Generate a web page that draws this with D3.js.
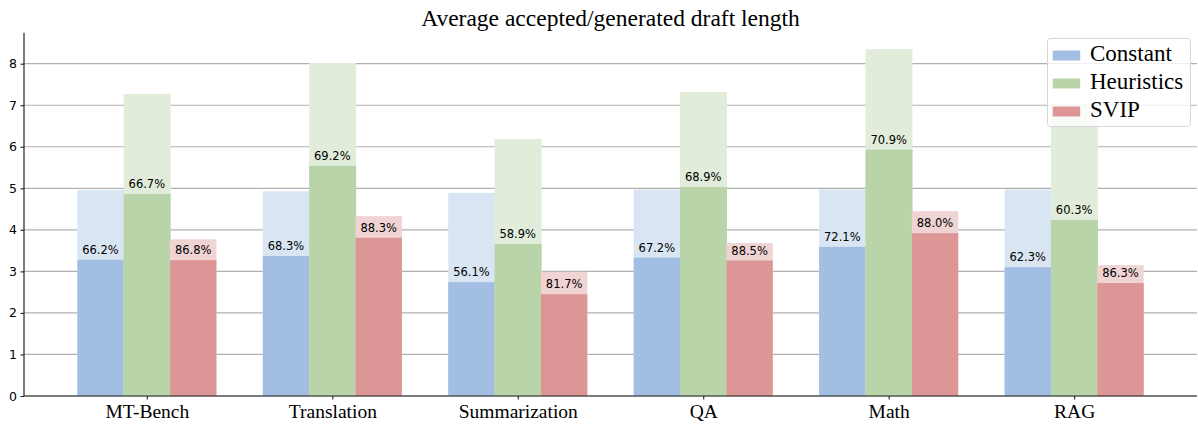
<!DOCTYPE html>
<html><head><meta charset="utf-8">
<script src="https://cdn.jsdelivr.net/npm/d3@7"></script>
<style>body{margin:0;background:#fff}svg{display:block}</style>
</head><body>
<svg id="c" width="1198" height="424"></svg>
<script>
const categories = ["MT-Bench","Translation","Summarization","QA","Math","RAG"];
const series = ["Constant","Heuristics","SVIP"];
const constantGenerated = [4.96, 4.93, 4.89, 4.97, 4.97, 4.97];
const constantAccepted  = [3.28, 3.37, 2.74, 3.33, 3.59, 3.10];
const heuristicsGenerated = [7.27, 8.02, 6.19, 7.32, 8.35, 7.03];
const heuristicsAccepted  = [4.86, 5.54, 3.66, 5.03, 5.93, 4.24];
const svipGenerated = [3.77, 4.33, 2.99, 3.68, 4.45, 3.15];
const svipAccepted  = [3.27, 3.81, 2.45, 3.26, 3.92, 2.72];
const constantPct   = ["66.2%","68.3%","56.1%","67.2%","72.1%","62.3%"];
const heuristicsPct = ["66.7%","69.2%","58.9%","68.9%","70.9%","60.3%"];
const svipPct       = ["86.8%","88.3%","81.7%","88.5%","88.0%","86.3%"];
const yTicks = [0,1,2,3,4,5,6,7,8];

const solid = ["#a2bfe3","#b9d4a8","#dc9695"];
const light = ["#d9e5f3","#e1ecda","#f0d3d3"];

const gen = [constantGenerated, heuristicsGenerated, svipGenerated];
const acc = [constantAccepted, heuristicsAccepted, svipAccepted];
const pct = [constantPct, heuristicsPct, svipPct];

const svg = d3.select("#c");
const L = 24, R = 1197, B = 396, T = 32.7;
const barW = 0.25;
const x = d3.scaleLinear().domain([-0.6625, categories.length - 1 + 0.6625]).range([L, R]);
const y = d3.scaleLinear().domain([0, 8.746]).range([B, T]);

// grid
svg.append("g").selectAll("line").data(yTicks).join("line")
  .attr("x1", L).attr("x2", R)
  .attr("y1", d => y(d)).attr("y2", d => y(d))
  .attr("stroke", "#b0b0b0").attr("stroke-width", 1.2);

// bars
series.forEach((s, si) => {
  const off = (si - 1) * barW;
  const g = svg.append("g");
  const ext = si < 2 ? 0.6 : 0;
  g.selectAll("rect.gen").data(categories).join("rect").attr("class","gen")
    .attr("x", (d,i) => x(i + off - barW/2))
    .attr("width", (d,i) => x(i + off + barW/2) - x(i + off - barW/2) + ext)
    .attr("y", (d,i) => y(gen[si][i]))
    .attr("height", (d,i) => y(0) - y(gen[si][i]))
    .attr("fill", light[si]);
  g.selectAll("rect.acc").data(categories).join("rect").attr("class","acc")
    .attr("x", (d,i) => x(i + off - barW/2))
    .attr("width", (d,i) => x(i + off + barW/2) - x(i + off - barW/2) + ext)
    .attr("y", (d,i) => y(acc[si][i]))
    .attr("height", (d,i) => y(0) - y(acc[si][i]))
    .attr("fill", solid[si]);
});
// labels
series.forEach((s, si) => {
  const off = (si - 1) * barW;
  svg.append("g").selectAll("text").data(categories).join("text")
    .attr("x", (d,i) => x(i + off))
    .attr("y", (d,i) => y(acc[si][i]) - 6)
    .attr("text-anchor", "middle")
    .attr("font-family", "DejaVu Sans").attr("font-size", 11.5)
    .attr("fill", "#000")
    .text((d,i) => pct[si][i]);
});

// axes
const yAxis = d3.axisLeft(y).tickValues(yTicks).tickSize(3.5).tickPadding(3.5).tickFormat(d3.format("d"));
const gy = svg.append("g").attr("transform", `translate(${L},0)`).call(yAxis);
gy.select(".domain").attr("stroke", "#222").attr("stroke-width", 1.2).attr("d", `M-0,${B}V${T}`);
gy.selectAll(".tick line").attr("stroke", "#222").attr("stroke-width", 1.1);
gy.selectAll(".tick text").attr("font-family", "DejaVu Sans").attr("font-size", 12.5).attr("fill", "#000");

const xAxis = d3.axisBottom(x).tickValues(d3.range(categories.length)).tickFormat(i => categories[i]).tickSize(3.5).tickPadding(5);
const gx = svg.append("g").attr("transform", `translate(0,${B})`).call(xAxis);
gx.select(".domain").attr("stroke", "#222").attr("stroke-width", 1.2).attr("d", `M${L},0H${R}`);
gx.selectAll(".tick line").attr("stroke", "#222").attr("stroke-width", 1.1);
gx.selectAll(".tick text").attr("font-family", "Liberation Serif").attr("font-size", 19.5).attr("fill", "#000");

// title
svg.append("text").attr("x", (L + R) / 2).attr("y", 26)
  .attr("text-anchor", "middle").attr("font-family", "Liberation Serif").attr("font-size", 23.5)
  .attr("fill", "#000").text("Average accepted/generated draft length");

// legend
const lg = svg.append("g");
lg.append("rect").attr("x", 1047.5).attr("y", 38.5).attr("width", 143).attr("height", 88)
  .attr("rx", 3).attr("fill", "#fff").attr("fill-opacity", 0.8).attr("stroke", "#d6d6d6").attr("stroke-width", 1);
series.forEach((s, si) => {
  const yy = 60.5 + si * 28;
  lg.append("rect").attr("x", 1052.7).attr("y", yy - 10).attr("width", 27.5).attr("height", 10).attr("fill", solid[si]);
  lg.append("text").attr("x", 1090).attr("y", yy).attr("font-family", "Liberation Serif").attr("font-size", 23)
    .attr("fill", "#000").text(s);
});
</script>
</body></html>
